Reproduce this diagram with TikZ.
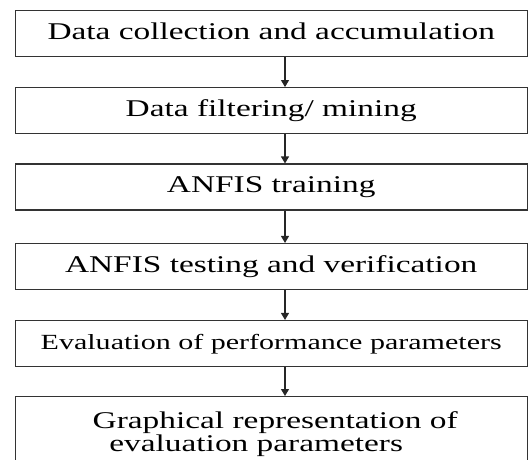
\documentclass[tikz,border=0pt]{standalone}
\usepackage{fontspec}
\setmainfont{Liberation Serif}[FakeStretch=1.39]
\usetikzlibrary{arrows.meta}
\begin{document}
\begin{tikzpicture}[x=1pt,y=1pt,
  boxbase/.style={draw=black!80, line width=1.1pt, minimum width=512pt,
    inner xsep=0pt, font=\fontsize{24}{23.5}\selectfont},
  stepbox/.style={boxbase, minimum height=46pt, inner ysep=0pt,
    text height=17.5pt, text depth=6.5pt},
  flow/.style={draw=black!85, line width=1.1pt,
    -{Triangle[length=7pt,width=8pt]}}]
\useasboundingbox (0,0) rectangle (530,-459);
\clip (0,0) rectangle (530,-459);

% process steps
\node[stepbox] (b1) at (271.2,-33.7)  {Data collection and accumulation};
\node[stepbox] (b2) at (271.2,-110.6) {Data filtering/ mining};
\node[stepbox] (b3) at (271.2,-187)   {ANFIS training};
\node[stepbox] (b4) at (271.2,-266.5) {ANFIS testing and verification};
\node[stepbox, font=\fontsize{21.6}{23}\selectfont] (b5) at (271.2,-343.5)
  {Evaluation of performance parameters};
\node[boxbase, anchor=north, align=center, inner ysep=15pt] (b6) at (271.2,-396)
  {\hspace*{8pt}Graphical representation of\\evaluation parameters\hspace*{30pt}};

% connectors, slightly right of the box centres
\coordinate (ax) at (285,0);
\draw[flow] (b1.south -| ax) -- (b2.north -| ax);
\draw[flow] (b2.south -| ax) -- (b3.north -| ax);
\draw[flow] (b3.south -| ax) -- (b4.north -| ax);
\draw[flow] (b4.south -| ax) -- (b5.north -| ax);
\draw[flow] (b5.south -| ax) -- (b6.north -| ax);
\end{tikzpicture}
\end{document}
